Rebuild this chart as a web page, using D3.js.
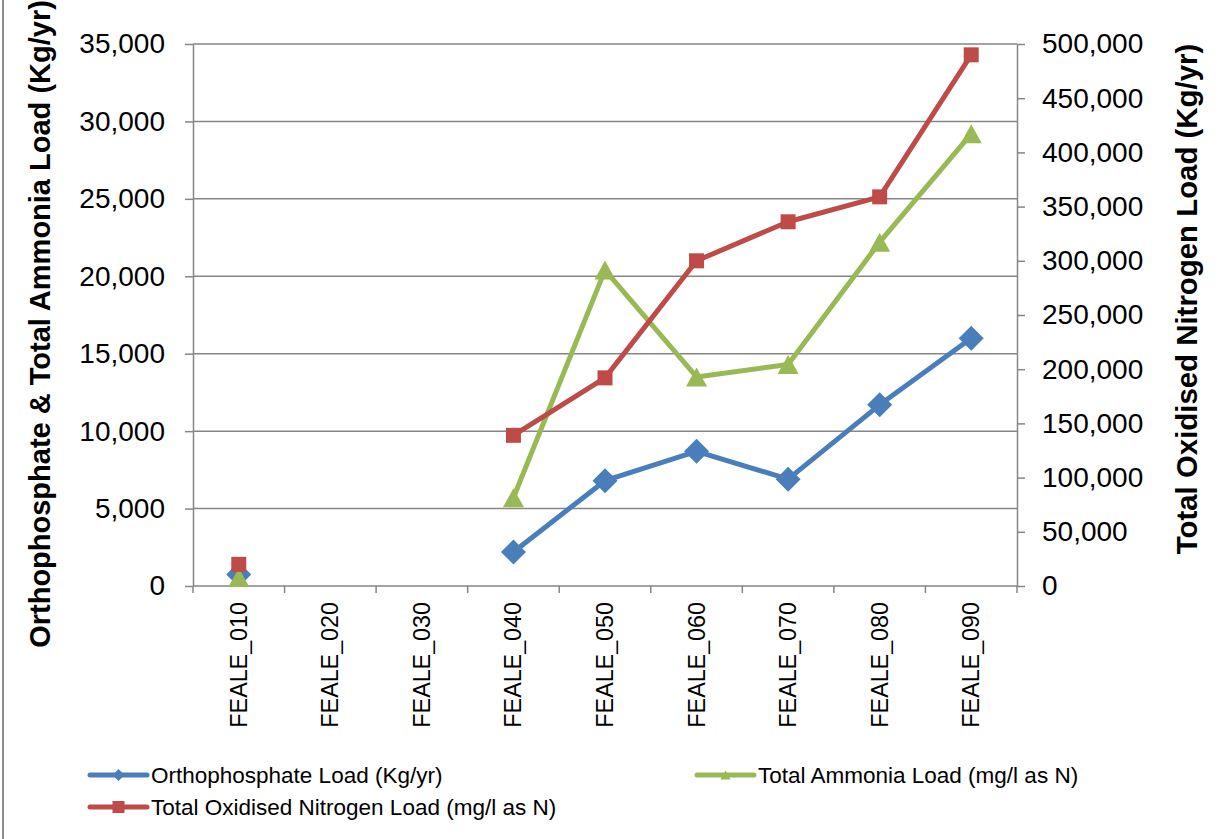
<!DOCTYPE html>
<html>
<head>
<meta charset="utf-8">
<script src="https://cdn.jsdelivr.net/npm/d3@7"></script>
<style>
  body { margin: 0; background: #fff; }
  svg { font-family: "Liberation Sans", Arial, sans-serif; }
</style>
</head>
<body>
<svg width="1229" height="839"></svg>
<script>
// chart values
const categories = ["FEALE_010", "FEALE_020", "FEALE_030", "FEALE_040", "FEALE_050",
                    "FEALE_060", "FEALE_070", "FEALE_080", "FEALE_090"];
const orthoLoad   = [750, null, null, 2200, 6800, 8700, 6900, 11700, 16000];
const ammoniaLoad = [550, null, null, 5700, 20400, 13500, 14300, 22200, 29200];
const tonLoad     = [20000, null, null, 139000, 192000, 300000, 336000, 359000, 490000];
const leftTicks  = [0, 5000, 10000, 15000, 20000, 25000, 30000, 35000];
const rightTicks = [0, 50000, 100000, 150000, 200000, 250000, 300000, 350000, 400000, 450000, 500000];

const svg = d3.select("svg");
const plot = { left: 193, right: 1017, top: 44, bottom: 586 };
const gridColor = "#868686";
const fmt = d3.format(",");

const x = d3.scaleBand().domain(categories).range([plot.left, plot.right]);
const yL = d3.scaleLinear().domain([0, 35000]).range([plot.bottom, plot.top]);
const yR = d3.scaleLinear().domain([0, 500000]).range([plot.bottom, plot.top]);
const cx = c => x(c) + x.bandwidth() / 2;

// chart-area border (only left edge shows)
svg.append("line").attr("x1", 3).attr("x2", 3).attr("y1", 0).attr("y2", 839)
    .attr("stroke", "#8c8c8c").attr("stroke-width", 2);

// gridlines
svg.append("g").selectAll("line").data(leftTicks.slice(1)).join("line")
    .attr("x1", plot.left).attr("x2", plot.right)
    .attr("y1", d => yL(d)).attr("y2", d => yL(d))
    .attr("stroke", gridColor).attr("stroke-width", 1.5);

// left axis
const gL = svg.append("g").attr("transform", `translate(${plot.left},0)`)
    .call(d3.axisLeft(yL).tickValues(leftTicks).tickFormat(fmt).tickSize(8).tickSizeOuter(0).tickPadding(20));
// right axis
const gR = svg.append("g").attr("transform", `translate(${plot.right},0)`)
    .call(d3.axisRight(yR).tickValues(rightTicks).tickFormat(fmt).tickSize(8).tickSizeOuter(0).tickPadding(17));
[gL, gR].forEach(g => {
    g.selectAll("path, line").attr("stroke", gridColor).attr("stroke-width", 1.5);
    g.selectAll("text").attr("font-size", 28).attr("fill", "#000")
        .attr("font-family", "'Liberation Sans', Arial, sans-serif");
});

// bottom axis line + boundary ticks
const gB = svg.append("g");
gB.append("line").attr("x1", plot.left).attr("x2", plot.right)
    .attr("y1", plot.bottom).attr("y2", plot.bottom)
    .attr("stroke", gridColor).attr("stroke-width", 1.5);
const bounds = categories.map(c => x(c)).concat([plot.right]);
gB.selectAll("line.tk").data(bounds).join("line").attr("class", "tk")
    .attr("x1", d => d).attr("x2", d => d)
    .attr("y1", plot.bottom).attr("y2", plot.bottom + 7)
    .attr("stroke", gridColor).attr("stroke-width", 1.5);
gB.selectAll("text").data(categories).join("text")
    .attr("transform", d => `translate(${cx(d) + 8},${plot.bottom + 16}) rotate(-90)`)
    .attr("text-anchor", "end")
    .attr("font-size", 23.3)
    .text(d => d);

// axis titles
svg.append("text")
    .attr("transform", "translate(50,324) rotate(-90)")
    .attr("text-anchor", "middle").attr("font-size", 29).attr("font-weight", "bold")
    .text("Orthophosphate & Total Ammonia Load (Kg/yr)");
svg.append("text")
    .attr("transform", "translate(1197,299) rotate(-90)")
    .attr("text-anchor", "middle").attr("font-size", 29.4).attr("font-weight", "bold")
    .text("Total Oxidised Nitrogen Load (Kg/yr)");

// marker shapes, centered on the point
function diamond(r) { return `M0,${-r}L${r},0L0,${r}L${-r},0Z`; }
function square(r) { return `M${-r},${-r}H${r}V${r}H${-r}Z`; }
function triangle(w, h) { return `M0,${-h / 2}L${w / 2},${h / 2}L${-w / 2},${h / 2}Z`; }

const series = [
    { name: "Orthophosphate Load (Kg/yr)", values: orthoLoad, y: yL, color: "#4A7EBB", marker: diamond(12.5), legMarker: diamond(6) },
    { name: "Total Ammonia Load (mg/l as N)", values: ammoniaLoad, y: yL, color: "#98B954", marker: triangle(21, 19), legMarker: triangle(10, 9) },
    { name: "Total Oxidised Nitrogen Load (mg/l as N)", values: tonLoad, y: yR, color: "#BE4B48", marker: square(7.5), legMarker: square(6) }
];

series.forEach(s => {
    const pts = categories.map((c, i) => ({ c, v: s.values[i] }));
    const line = d3.line().defined(d => d.v != null)
        .x(d => cx(d.c)).y(d => s.y(d.v));
    svg.append("path").datum(pts)
        .attr("d", line).attr("fill", "none")
        .attr("stroke", s.color).attr("stroke-width", 5).attr("stroke-linejoin", "round");
    svg.append("g").selectAll("path").data(pts.filter(d => d.v != null)).join("path")
        .attr("d", s.marker)
        .attr("transform", d => `translate(${cx(d.c)},${s.y(d.v)})`)
        .attr("fill", s.color);
});

// legend
const legendPos = [
    { x: 90, y: 775 },   // ortho
    { x: 697, y: 775 },  // ammonia
    { x: 90, y: 807 }    // TON
];
series.forEach((s, i) => {
    const p = legendPos[i];
    const g = svg.append("g").attr("transform", `translate(${p.x},${p.y})`);
    g.append("line").attr("x1", 0).attr("x2", 57).attr("y1", 0).attr("y2", 0)
        .attr("stroke", s.color).attr("stroke-width", 5).attr("stroke-linecap", "round");
    g.append("path").attr("d", s.legMarker).attr("transform", "translate(28.5,0)").attr("fill", s.color);
    g.append("text").attr("x", 61).attr("y", 8).attr("font-size", 22.5).text(s.name);
});
</script>
</body>
</html>
